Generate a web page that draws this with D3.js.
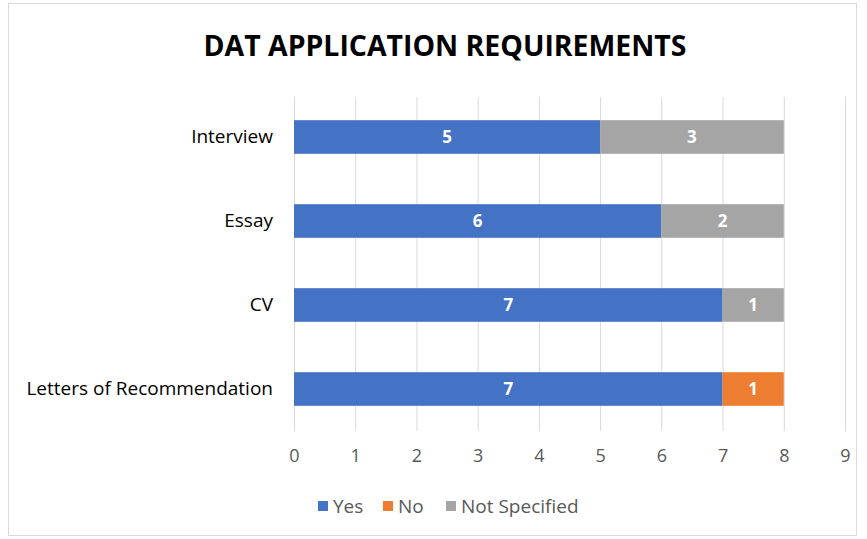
<!DOCTYPE html>
<html>
<head>
<meta charset="utf-8">
<script src="https://cdn.jsdelivr.net/npm/d3@7"></script>
<style>
  body { margin: 0; background: #fff; }
  text { font-family: "Open Sans", "Liberation Sans", sans-serif; }
</style>
</head>
<body>
<svg id="chart" width="867" height="539"></svg>
<script>
var categories = ["Interview", "Essay", "CV", "Letters of Recommendation"];
var seriesNames = ["Yes", "No", "Not Specified"];
var yesValues = [5, 6, 7, 7];
var noValues = [0, 0, 0, 1];
var notSpecifiedValues = [3, 2, 1, 0];
var xTicks = [0, 1, 2, 3, 4, 5, 6, 7, 8, 9];
var colors = ["#4472C4", "#ED7D31", "#A5A5A5"];

var rows = categories.map(function (c, i) {
    return { cat: c, "Yes": yesValues[i], "No": noValues[i], "Not Specified": notSpecifiedValues[i] };
});

var svg = d3.select("#chart");

// outer chart border
svg.append("rect")
    .attr("x", 8.5).attr("y", 3.5)
    .attr("width", 848).attr("height", 532)
    .attr("fill", "white")
    .attr("stroke", "#d9d9d9");

svg.append("text")
    .attr("x", 445).attr("y", 56)
    .attr("text-anchor", "middle")
    .attr("font-size", 28)
    .attr("font-weight", "bold")
    .attr("fill", "#000")
    .attr("textLength", 483)
    .attr("lengthAdjust", "spacingAndGlyphs")
    .text("DAT APPLICATION REQUIREMENTS");

var x = d3.scaleLinear().domain([0, 9]).range([294, 845]);
var y = d3.scaleBand().domain(categories).range([95, 431]).paddingInner(0.6).paddingOuter(0.3);

// gridlines
svg.append("g").selectAll("line")
    .data(xTicks)
    .join("line")
    .attr("x1", function (d) { return x(d) + 0.5; })
    .attr("x2", function (d) { return x(d) + 0.5; })
    .attr("y1", 97).attr("y2", 431)
    .attr("stroke", "#d9d9d9");

var stack = d3.stack().keys(seriesNames)(rows);

var layers = svg.append("g").selectAll("g")
    .data(stack)
    .join("g")
    .attr("fill", function (d, i) { return colors[i]; });

layers.selectAll("rect")
    .data(function (d) { return d; })
    .join("rect")
    .attr("x", function (d) { return x(d[0]); })
    .attr("width", function (d) { return x(d[1]) - x(d[0]); })
    .attr("y", function (d) { return y(d.data.cat); })
    .attr("height", y.bandwidth());

layers.selectAll("text")
    .data(function (d) { return d.filter(function (e) { return e[1] - e[0] > 0; }); })
    .join("text")
    .attr("x", function (d) { return (x(d[0]) + x(d[1])) / 2; })
    .attr("y", function (d) { return y(d.data.cat) + y.bandwidth() / 2; })
    .attr("dy", "0.35em")
    .attr("text-anchor", "middle")
    .attr("font-size", 17)
    .attr("font-weight", "bold")
    .attr("fill", "white")
    .text(function (d) { return d[1] - d[0]; });

// category labels
var yAxis = svg.append("g")
    .attr("transform", "translate(294,0)")
    .call(d3.axisLeft(y).tickSize(0).tickPadding(21));
yAxis.select(".domain").remove();
yAxis.selectAll("text")
    .attr("font-size", 19)
    .attr("fill", "#000")
    .style("font-family", "'Open Sans', sans-serif");

// x tick labels
var xAxis = svg.append("g")
    .attr("transform", "translate(0,431)")
    .call(d3.axisBottom(x).tickValues(xTicks).tickSize(0).tickPadding(18));
xAxis.select(".domain").remove();
xAxis.selectAll("text")
    .attr("font-size", 18)
    .attr("fill", "#595959")
    .style("font-family", "'Open Sans', sans-serif");

// legend
var legendX = [318, 383, 446];
var legend = svg.append("g").selectAll("g")
    .data(seriesNames)
    .join("g")
    .attr("transform", function (d, i) { return "translate(" + legendX[i] + ",506)"; });
legend.append("rect")
    .attr("x", 0).attr("y", -5)
    .attr("width", 10).attr("height", 10)
    .attr("fill", function (d, i) { return colors[i]; });
legend.append("text")
    .attr("x", 15).attr("dy", "0.35em")
    .attr("font-size", 19)
    .attr("fill", "#595959")
    .text(function (d) { return d; });
</script>
</body>
</html>
